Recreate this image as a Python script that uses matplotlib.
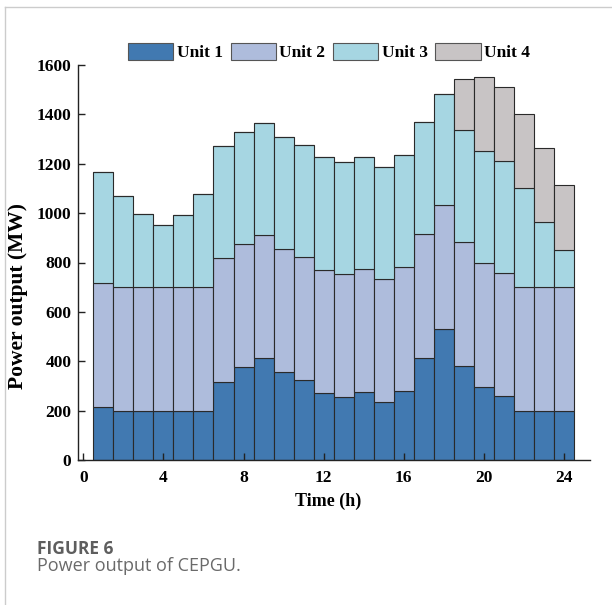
import matplotlib
matplotlib.use("Agg")
import matplotlib.pyplot as plt
from matplotlib.lines import Line2D
import numpy as np

hours = list(range(1, 25))
unit1 = [215, 200, 200, 200, 200, 200, 317, 375, 412, 356, 323, 271,
         255, 274, 234, 281, 414, 531, 382, 297, 259, 200, 200, 200]
unit2 = [500, 500, 500, 500, 500, 500, 500, 500, 500, 500, 500, 500,
         500, 500, 500, 500, 500, 500, 500, 500, 500, 500, 500, 500]
unit3 = [453, 370, 296, 252, 291, 379, 453, 455, 452, 452, 453, 455,
         451, 453, 453, 453, 454, 453, 453, 453, 452, 403, 263, 152]
unit4 = [0, 0, 0, 0, 0, 0, 0, 0, 0, 0, 0, 0,
         0, 0, 0, 0, 0, 0, 210, 300, 300, 300, 300, 262]
series_names = ["Unit 1", "Unit 2", "Unit 3", "Unit 4"]
xticks = [0, 4, 8, 12, 16, 20, 24]
yticks = [0, 200, 400, 600, 800, 1000, 1200, 1400, 1600]

colors = ["#4179b1", "#aebcdc", "#a6d6e2", "#c8c4c5"]

serif = ["Liberation Serif", "DejaVu Serif"]

fig = plt.figure(figsize=(6.12, 6.05), dpi=100)
ax = fig.add_axes([78.3 / 612, 1 - 460 / 605, (590 - 78.3) / 612, (460 - 65) / 605])

bottom = np.zeros(len(hours))
handles = []
for name, vals, c in zip(series_names, [unit1, unit2, unit3, unit4], colors):
    v = np.array(vals, dtype=float)
    b = ax.bar(hours, v, width=1.0, bottom=bottom, color=c,
               edgecolor="#2a2a2a", linewidth=0.8, label=name)
    handles.append(b)
    bottom += v

ax.set_xlim(-0.25, 25.3)
ax.set_ylim(0, 1600)
ax.set_xticks(xticks)
ax.set_yticks(yticks)
for s in ["top", "right"]:
    ax.spines[s].set_visible(False)
for s in ["left", "bottom"]:
    ax.spines[s].set_linewidth(1.0)
    ax.spines[s].set_color("#222222")
ax.tick_params(direction="in", length=5, width=1.0, color="#222222")
ax.tick_params(axis="y", pad=5)
ax.tick_params(axis="x", pad=7)
for lab in ax.get_xticklabels() + ax.get_yticklabels():
    lab.set_fontfamily(serif)
    lab.set_fontweight("bold")
    lab.set_fontsize(12.5)

ax.set_xlabel("Time (h)", family=serif, fontweight="bold", fontsize=13)
ax.set_ylabel("Power output (MW)", family=serif, fontweight="bold", fontsize=15.5)
ax.yaxis.set_label_coords(-0.098, 0.416)
ax.xaxis.set_label_coords(0.488, -0.0835)

leg = ax.legend(handles=handles, loc="center", bbox_to_anchor=(0.49, 1.033),
                ncol=4, frameon=False, borderpad=0, handlelength=2.6,
                handleheight=1.1, handletextpad=0.2, columnspacing=0.45,
                prop={"family": serif, "weight": "bold", "size": 12.5})
for p in leg.get_patches():
    p.set_edgecolor("#555555")
    p.set_linewidth(0.8)

fig.text(37 / 612, 1 - 554 / 605, "FIGURE 6", family=["Open Sans", "DejaVu Sans"],
         fontweight="bold", fontsize=12.5, color="#5e5e5e", va="baseline", ha="left")
fig.text(37 / 612, 1 - 571 / 605, "Power output of CEPGU.", family=["Open Sans", "DejaVu Sans"],
         fontsize=13, color="#6a6a6a", va="baseline", ha="left")

fig.add_artist(Line2D([4.5 / 612, 4.5 / 612], [0, 1 - 7 / 605], color="#cccccc", linewidth=1.0))
fig.add_artist(Line2D([4.5 / 612, 1], [1 - 7 / 605, 1 - 7 / 605], color="#cccccc", linewidth=1.0))

fig.savefig("out.png", dpi=100)
